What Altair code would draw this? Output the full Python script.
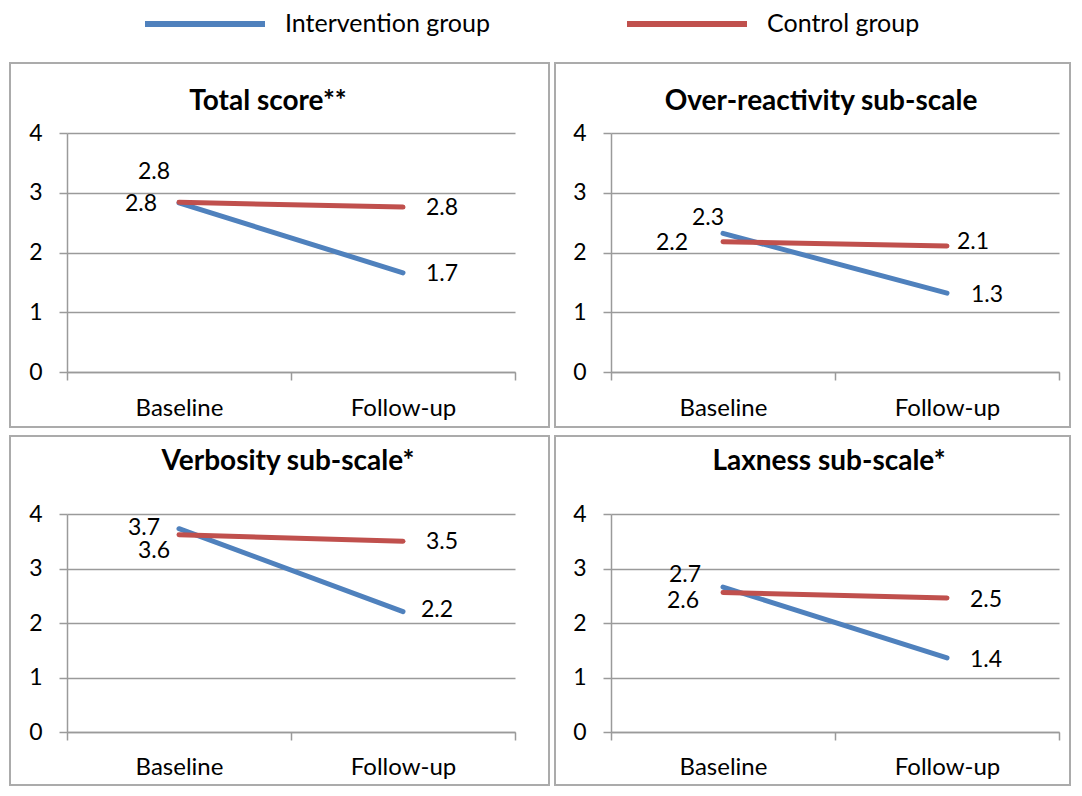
import altair as alt
import pandas as pd

# ---------------- data ----------------
TIMES = ["Baseline", "Follow-up"]
GROUPS = ["Intervention group", "Control group"]
TITLES = ["Total score**", "Over-reactivity sub-scale", "Verbosity sub-scale*", "Laxness sub-scale*"]

TOTAL_INT = [2.83, 1.66]
TOTAL_CTRL = [2.84, 2.76]
OVER_INT = [2.32, 1.32]
OVER_CTRL = [2.18, 2.11]
VERB_INT = [3.73, 2.21]
VERB_CTRL = [3.62, 3.50]
LAX_INT = [2.66, 1.36]
LAX_CTRL = [2.56, 2.46]

Y_TICKS = [0, 1, 2, 3, 4]

# label nudges (px) per panel, order: Int-Baseline, Int-Follow-up, Ctrl-Baseline, Ctrl-Follow-up
LABEL_DX = [[-25, 39, -38, 39], [-15, 40, -51, 26], [-35, 34, -25, 39], [-38, 39, -40, 39]]
LABEL_DY = [[-31, 1, 2, 1], [-15, 2, 1, -4], [-1, -2, 16, 1], [-12, 2, 9, 2]]

# ---------------- style ----------------
BLUE = "#4F81BD"
RED = "#C0504D"
GRID = "#9a9a9a"
FRAME = "#ababab"
FONT = "Lato"
PLOT_W = 448


def make_panel(idx, title, ivals, cvals, height, frame, title_pos, xlab_pad, legend):
    rows = []
    for g, vals in zip(GROUPS, [ivals, cvals]):
        for t, v in zip(TIMES, vals):
            rows.append({"group": g, "time": t, "value": v})
    df = pd.DataFrame(rows)
    base = alt.Chart(df)

    x = alt.X(
        "time:N",
        sort=TIMES,
        scale=alt.Scale(type="band", domain=TIMES, paddingInner=0, paddingOuter=0),
        axis=alt.Axis(
            title=None, labelAngle=0, tickBand="extent", tickSize=8, tickColor=GRID,
            tickWidth=1.5, domainColor=GRID, domainWidth=1.5, labelFontSize=24,
            labelFont=FONT, labelColor="black", labelPadding=xlab_pad,
            labelBaseline="alphabetic", grid=False,
        ),
    )
    y = alt.Y(
        "value:Q",
        scale=alt.Scale(domain=[0, 4], nice=False),
        axis=alt.Axis(
            title=None, values=Y_TICKS, grid=True, gridColor=GRID, gridWidth=1.5,
            domainColor=GRID, domainWidth=1.5, tickColor=GRID, tickWidth=1.5, tickSize=8,
            labelFontSize=23, labelFont=FONT, labelColor="black", labelPadding=17,
        ),
    )
    color = alt.Color(
        "group:N",
        scale=alt.Scale(domain=GROUPS, range=[BLUE, RED]),
        legend=legend,
    )

    layers = []
    fx1, fx2, fy1, fy2 = frame
    one = alt.Chart(pd.DataFrame({"title": [title]}))
    layers.append(
        one.mark_rect(fill="transparent", stroke=FRAME, strokeWidth=2)
        .encode(x=alt.value(fx1), x2=alt.value(fx2), y=alt.value(fy1), y2=alt.value(fy2))
    )
    tx, ty = title_pos
    layers.append(
        one.mark_text(fontSize=28, font=FONT, fontWeight="bold", color="black",
                      align="center", baseline="alphabetic")
        .encode(x=alt.value(tx), y=alt.value(ty), text="title:N")
    )
    for g in GROUPS:
        layers.append(
            base.transform_filter(alt.datum.group == g)
            .mark_line(strokeWidth=5, strokeCap="round")
            .encode(x=x, y=y, color=color)
        )
    k = 0
    for g in GROUPS:
        for t in TIMES:
            layers.append(
                base.transform_filter((alt.datum.group == g) & (alt.datum.time == t))
                .mark_text(
                    fontSize=23, font=FONT, color="black", align="center", baseline="middle",
                    dx=LABEL_DX[idx][k], dy=LABEL_DY[idx][k],
                )
                .encode(x=x, y=y, text=alt.Text("value:Q", format=".1f"))
            )
            k += 1

    return alt.layer(*layers).properties(width=PLOT_W, height=height)


# legend sample: a 120px-long horizontal stroke (custom path scaled by sqrt(size)/2 = 10)
legend = alt.Legend(
    orient="none", legendX=125, legendY=-122, direction="horizontal", title=None,
    symbolType="M-6,0H6", symbolSize=400, symbolStrokeWidth=6, labelFontSize=25,
    labelFont=FONT, labelColor="black", labelOffset=67, columnPadding=125, padding=0,
    labelLimit=400,
)

p1 = make_panel(0, TITLES[0], TOTAL_INT, TOTAL_CTRL, 239, (-57, 482, -70, 294), (201, -23), 35, legend)
p2 = make_panel(1, TITLES[1], OVER_INT, OVER_CTRL, 239, (-56, 459, -70, 294), (210, -23), 35, legend)
p3 = make_panel(2, TITLES[2], VERB_INT, VERB_CTRL, 218, (-57, 482, -78, 271), (221, -44), 34, legend)
p4 = make_panel(3, TITLES[3], LAX_INT, LAX_CTRL, 218, (-56, 459, -78, 271), (218, -44), 34, legend)

chart = (
    alt.concat(p1, p2, p3, p4, columns=2, spacing={"row": 7, "column": 4})
    .properties(padding={"left": 1, "top": 3, "right": 0, "bottom": 0})
    .configure(font=FONT)
    .configure_view(stroke=None)
)

chart.save("out.html", embed_options={"renderer": "svg", "actions": False})
